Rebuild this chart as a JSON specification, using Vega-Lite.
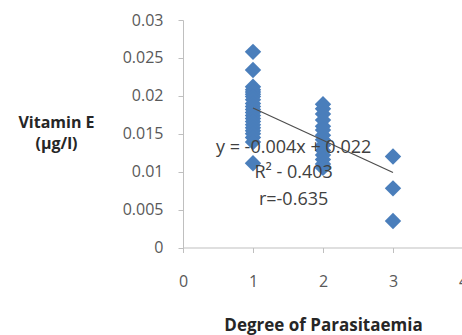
{
  "$schema": "https://vega.github.io/schema/vega-lite/v6.json",
  "width": 280,
  "height": 227.5,
  "autosize": "none",
  "padding": {"left": 183, "top": 20, "right": 0, "bottom": 87.5},
  "background": "white",
  "config": {"view": {"stroke": null}, "font": "Open Sans"},
  "datasets": {
    "pts": [
      {"degree": 1, "vitE": 0.0258}, {"degree": 1, "vitE": 0.0234}, {"degree": 1, "vitE": 0.0212},
      {"degree": 1, "vitE": 0.0208}, {"degree": 1, "vitE": 0.0205}, {"degree": 1, "vitE": 0.0202},
      {"degree": 1, "vitE": 0.0199}, {"degree": 1, "vitE": 0.0195}, {"degree": 1, "vitE": 0.019},
      {"degree": 1, "vitE": 0.0186}, {"degree": 1, "vitE": 0.0182}, {"degree": 1, "vitE": 0.0178},
      {"degree": 1, "vitE": 0.0174}, {"degree": 1, "vitE": 0.017}, {"degree": 1, "vitE": 0.0166},
      {"degree": 1, "vitE": 0.0162}, {"degree": 1, "vitE": 0.0158}, {"degree": 1, "vitE": 0.0154},
      {"degree": 1, "vitE": 0.015}, {"degree": 1, "vitE": 0.0145}, {"degree": 1, "vitE": 0.0139},
      {"degree": 1, "vitE": 0.0111},
      {"degree": 2, "vitE": 0.0189}, {"degree": 2, "vitE": 0.0183}, {"degree": 2, "vitE": 0.0176},
      {"degree": 2, "vitE": 0.0168}, {"degree": 2, "vitE": 0.016}, {"degree": 2, "vitE": 0.0155},
      {"degree": 2, "vitE": 0.0148}, {"degree": 2, "vitE": 0.0142}, {"degree": 2, "vitE": 0.0135},
      {"degree": 2, "vitE": 0.0128}, {"degree": 2, "vitE": 0.0122}, {"degree": 2, "vitE": 0.0116},
      {"degree": 2, "vitE": 0.011}, {"degree": 2, "vitE": 0.0105},
      {"degree": 3, "vitE": 0.012}, {"degree": 3, "vitE": 0.0078}, {"degree": 3, "vitE": 0.0035}
    ],
    "trend": [
      {"degree": 1, "vitE": 0.0184}, {"degree": 3, "vitE": 0.0099}
    ],
    "notes": [
      {"degree": 1.58, "vitE": 0.0131, "label": "y = -0.004x + 0.022"},
      {"degree": 1.58, "vitE": 0.0098, "label": "R² - 0.403"},
      {"degree": 1.58, "vitE": 0.0062, "label": "r=-0.635"}
    ]
  },
  "encoding": {
    "x": {
      "field": "degree", "type": "quantitative",
      "scale": {"domain": [0, 4], "nice": false, "zero": false},
      "axis": {
        "values": [0, 1, 2, 3, 4], "grid": false, "format": "d",
        "domainColor": "#bfbfbf", "tickColor": "#bfbfbf", "tickSize": 5,
        "labelFontSize": 16, "labelColor": "#595959", "labelPadding": 21,
        "labelFlush": false, "labelOverlap": false,
        "title": "Degree of Parasitaemia", "titleFontSize": 17, "titleFontWeight": "bold",
        "titleColor": "#262626", "titleY": 78, "titleBaseline": "middle"
      }
    },
    "y": {
      "field": "vitE", "type": "quantitative",
      "scale": {"domain": [0, 0.03], "nice": false},
      "axis": {
        "values": [0, 0.005, 0.01, 0.015, 0.02, 0.025, 0.03], "grid": false, "format": "~g",
        "domainColor": "#bfbfbf", "tickColor": "#bfbfbf", "tickSize": 5,
        "labelFontSize": 16, "labelColor": "#595959", "labelPadding": 15,
        "labelFlush": false, "labelOverlap": false,
        "title": ["Vitamin E", "(µg/l)"], "titleAngle": 0, "titleAlign": "center",
        "titleBaseline": "middle", "titleX": -127, "titleY": 102, "titleLineHeight": 21,
        "titleFontSize": 16, "titleFontWeight": "bold", "titleColor": "#262626"
      }
    }
  },
  "layer": [
    {
      "data": {"name": "pts"},
      "mark": {"type": "point", "shape": "diamond", "filled": true, "size": 270, "color": "#4a7ebb", "opacity": 1}
    },
    {
      "data": {"name": "trend"},
      "mark": {"type": "line", "color": "#4d4d4d", "strokeWidth": 1.2}
    },
    {
      "data": {"name": "notes"},
      "mark": {"type": "text", "fontSize": 18, "color": "#404040", "align": "center", "baseline": "middle"},
      "encoding": {"text": {"field": "label"}}
    }
  ]
}
